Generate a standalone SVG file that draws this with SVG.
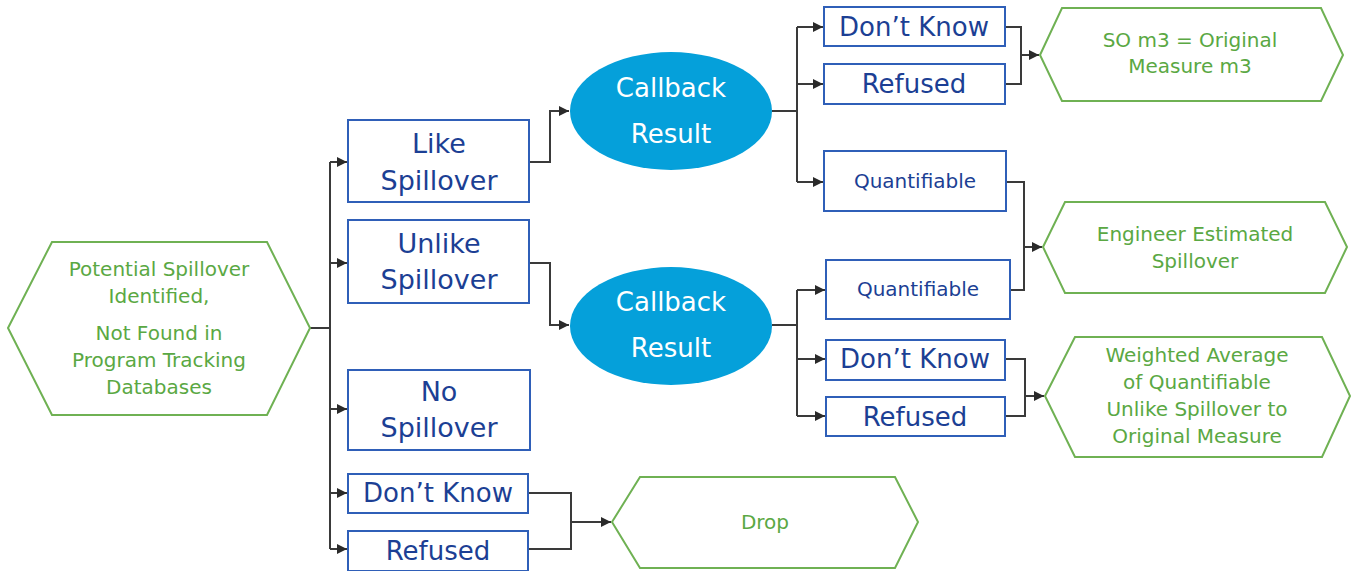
<svg xmlns="http://www.w3.org/2000/svg" width="1355" height="571" viewBox="0 0 1355 571">
<style>
.box{fill:#fff;stroke:#2f5fb8;stroke-width:2}
.hex{fill:#fff;stroke:#6fb153;stroke-width:2}
.ell{fill:#05a0da;stroke:none}
.bt{font-family:"DejaVu Sans",Verdana,sans-serif;fill:#1c3f94;text-anchor:middle}
.gt{font-family:"DejaVu Sans",Verdana,sans-serif;fill:#5aa843;text-anchor:middle;font-size:20px}
.wt{font-family:"DejaVu Sans",Verdana,sans-serif;fill:#fff;text-anchor:middle;font-size:26px}
.c{fill:none;stroke:#3a3a3a;stroke-width:2}
</style>
<defs>
<marker id="a" viewBox="0 0 10 10" refX="10" refY="5" markerWidth="5" markerHeight="5" orient="auto" markerUnits="strokeWidth">
<path d="M0,0 L10,5 L0,10 z" fill="#2a2a2a"/>
</marker>
</defs>
<rect width="1355" height="571" fill="#fff"/>
<g id="connectors">
<path class="c" d="M310,328 H330"/>
<path class="c" d="M330,162 V549"/>
<path class="c" d="M330,162 H347" marker-end="url(#a)"/>
<path class="c" d="M330,263 H347" marker-end="url(#a)"/>
<path class="c" d="M330,409 H347" marker-end="url(#a)"/>
<path class="c" d="M330,493 H347" marker-end="url(#a)"/>
<path class="c" d="M330,549 H347" marker-end="url(#a)"/>
<path class="c" d="M529,162 H550 V111 H569" marker-end="url(#a)"/>
<path class="c" d="M529,263 H550 V325 H569" marker-end="url(#a)"/>
<path class="c" d="M772,111 H797"/>
<path class="c" d="M797,27 V182"/>
<path class="c" d="M797,27 H823" marker-end="url(#a)"/>
<path class="c" d="M797,84 H823" marker-end="url(#a)"/>
<path class="c" d="M797,182 H823" marker-end="url(#a)"/>
<path class="c" d="M772,325 H797"/>
<path class="c" d="M797,290 V416"/>
<path class="c" d="M797,290 H825" marker-end="url(#a)"/>
<path class="c" d="M797,359 H825" marker-end="url(#a)"/>
<path class="c" d="M797,416 H825" marker-end="url(#a)"/>
<path class="c" d="M1005,27 H1021 V84 H1005"/>
<path class="c" d="M1021,55 H1039" marker-end="url(#a)"/>
<path class="c" d="M1006,182 H1024 V290 H1010"/>
<path class="c" d="M1024,247 H1042" marker-end="url(#a)"/>
<path class="c" d="M1005,359 H1025 V416 H1005"/>
<path class="c" d="M1025,396 H1044" marker-end="url(#a)"/>
<path class="c" d="M528,493 H571 V549 H528"/>
<path class="c" d="M571,522 H611" marker-end="url(#a)"/>
</g>
<g id="start">
<polygon class="hex" points="8,328 52,242 267,242 310,328 267,415 52,415"/>
<text class="gt"><tspan x="159" y="276">Potential Spillover</tspan><tspan x="159" y="303">Identified,</tspan><tspan x="159" y="340">Not Found in</tspan><tspan x="159" y="367">Program Tracking</tspan><tspan x="159" y="394">Databases</tspan></text>
</g>
<g id="like">
<rect class="box" x="348" y="120" width="181" height="82"/>
<text class="bt" font-size="27"><tspan x="439" y="153">Like</tspan><tspan x="439" y="190">Spillover</tspan></text>
</g>
<g id="unlike">
<rect class="box" x="348" y="220" width="181" height="83"/>
<text class="bt" font-size="27"><tspan x="439" y="253">Unlike</tspan><tspan x="439" y="289">Spillover</tspan></text>
</g>
<g id="nospill">
<rect class="box" x="348" y="370" width="182" height="80"/>
<text class="bt" font-size="27"><tspan x="439" y="401">No</tspan><tspan x="439" y="437">Spillover</tspan></text>
</g>
<g id="dk-left">
<rect class="box" x="348" y="474" width="180" height="39"/>
<text class="bt" font-size="26" x="438" y="502">Don’t Know</text>
</g>
<g id="ref-left">
<rect class="box" x="348" y="531" width="180" height="40"/>
<text class="bt" font-size="26" x="438" y="560">Refused</text>
</g>
<g id="callback1">
<ellipse class="ell" cx="671" cy="111" rx="101" ry="59"/>
<text class="wt"><tspan x="671" y="97">Callback</tspan><tspan x="671" y="143">Result</tspan></text>
</g>
<g id="callback2">
<ellipse class="ell" cx="671" cy="326" rx="101" ry="59"/>
<text class="wt"><tspan x="671" y="311">Callback</tspan><tspan x="671" y="357">Result</tspan></text>
</g>
<g id="dk1">
<rect class="box" x="824" y="7" width="181" height="39"/>
<text class="bt" font-size="26" x="914" y="36">Don’t Know</text>
</g>
<g id="ref1">
<rect class="box" x="824" y="64" width="181" height="40"/>
<text class="bt" font-size="26" x="914" y="93">Refused</text>
</g>
<g id="quant1">
<rect class="box" x="824" y="151" width="182" height="60"/>
<text class="bt" font-size="20" x="915" y="188">Quantifiable</text>
</g>
<g id="quant2">
<rect class="box" x="826" y="260" width="184" height="59"/>
<text class="bt" font-size="20" x="918" y="296">Quantifiable</text>
</g>
<g id="dk2">
<rect class="box" x="826" y="340" width="179" height="40"/>
<text class="bt" font-size="26" x="915" y="368">Don’t Know</text>
</g>
<g id="ref2">
<rect class="box" x="826" y="397" width="179" height="39"/>
<text class="bt" font-size="26" x="915" y="426">Refused</text>
</g>
<g id="so-m3">
<polygon class="hex" points="1040,55 1062,8 1321,8 1343,55 1321,101 1062,101"/>
<text class="gt"><tspan x="1190" y="47">SO m3 = Original</tspan><tspan x="1190" y="73">Measure m3</tspan></text>
</g>
<g id="engineer">
<polygon class="hex" points="1043,247 1065,202 1325,202 1347,247 1325,293 1065,293"/>
<text class="gt"><tspan x="1195" y="241">Engineer Estimated</tspan><tspan x="1195" y="268">Spillover</tspan></text>
</g>
<g id="weighted">
<polygon class="hex" points="1045,396 1075,337 1322,337 1350,396 1322,457 1075,457"/>
<text class="gt"><tspan x="1197" y="362">Weighted Average</tspan><tspan x="1197" y="389">of Quantifiable</tspan><tspan x="1197" y="416">Unlike Spillover to</tspan><tspan x="1197" y="443">Original Measure</tspan></text>
</g>
<g id="drop">
<polygon class="hex" points="612,522 640,477 895,477 918,522 895,568 640,568"/>
<text class="gt" x="765" y="529">Drop</text>
</g>
</svg>
